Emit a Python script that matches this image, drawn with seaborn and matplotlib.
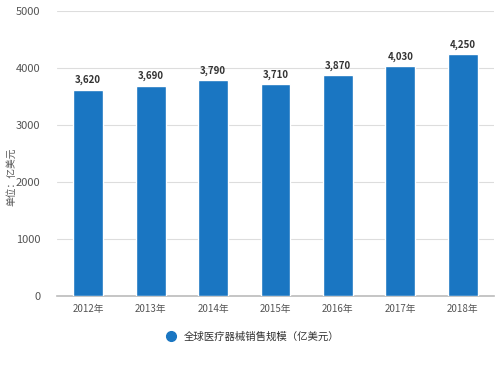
import matplotlib
matplotlib.use("Agg")
import matplotlib.pyplot as plt
import seaborn as sns
import pandas as pd
from matplotlib.lines import Line2D

years = ["2012年", "2013年", "2014年", "2015年", "2016年", "2017年", "2018年"]
values = [3620, 3690, 3790, 3710, 3870, 4030, 4250]
y_ticks = [0, 1000, 2000, 3000, 4000, 5000]
series_name = "全球医疗器械销售规模（亿美元）"
y_label = "单位：亿美元"

sns.set_theme(style="white")
plt.rcParams['font.family'] = ['Noto Sans CJK SC', 'DejaVu Sans']

df = pd.DataFrame({"year": years, "value": values})
color = "#1a76c2"

fig = plt.figure(figsize=(5, 3.65), dpi=100)
ax = fig.add_axes([0.114, 0.189, 0.874, 0.781])
sns.barplot(data=df, x="year", y="value", color=color, width=0.48, ax=ax,
            saturation=1, zorder=3)

ax.set_ylim(0, 5000)
ax.set_yticks(y_ticks)
ax.set_yticklabels([str(t) for t in y_ticks], fontsize=8, color="#555555")
ax.tick_params(axis="x", labelsize=7, colors="#555555", length=4, width=0.8,
               direction="out", pad=2)
ax.tick_params(axis="x", color="#bbbbbb")
ax.tick_params(axis="y", length=0, pad=12)
ax.grid(axis="y", color="#dddddd", linewidth=0.8, zorder=0)
for s in ["top", "right", "left"]:
    ax.spines[s].set_visible(False)
ax.spines["bottom"].set_color("#bbbbbb")
ax.spines["bottom"].set_linewidth(1.2)
ax.set_xlabel("")
ax.set_ylabel(y_label, fontsize=7, color="#555555", labelpad=4)
ax.yaxis.set_label_coords(-0.092, 0.42)

for c in ax.containers:
    ax.bar_label(c, labels=[f"{v:,}" for v in values], padding=3,
                 fontsize=7, fontweight="bold", color="#333333")

handle = Line2D([0], [0], marker="o", color="none", markerfacecolor=color,
                markeredgecolor=color, markersize=7)
fig.legend([handle], [series_name], loc="center", bbox_to_anchor=(0.5, 0.077),
           frameon=False, fontsize=7.5, handletextpad=0.3, labelcolor="#333333")

fig.savefig("out.png", dpi=100)
